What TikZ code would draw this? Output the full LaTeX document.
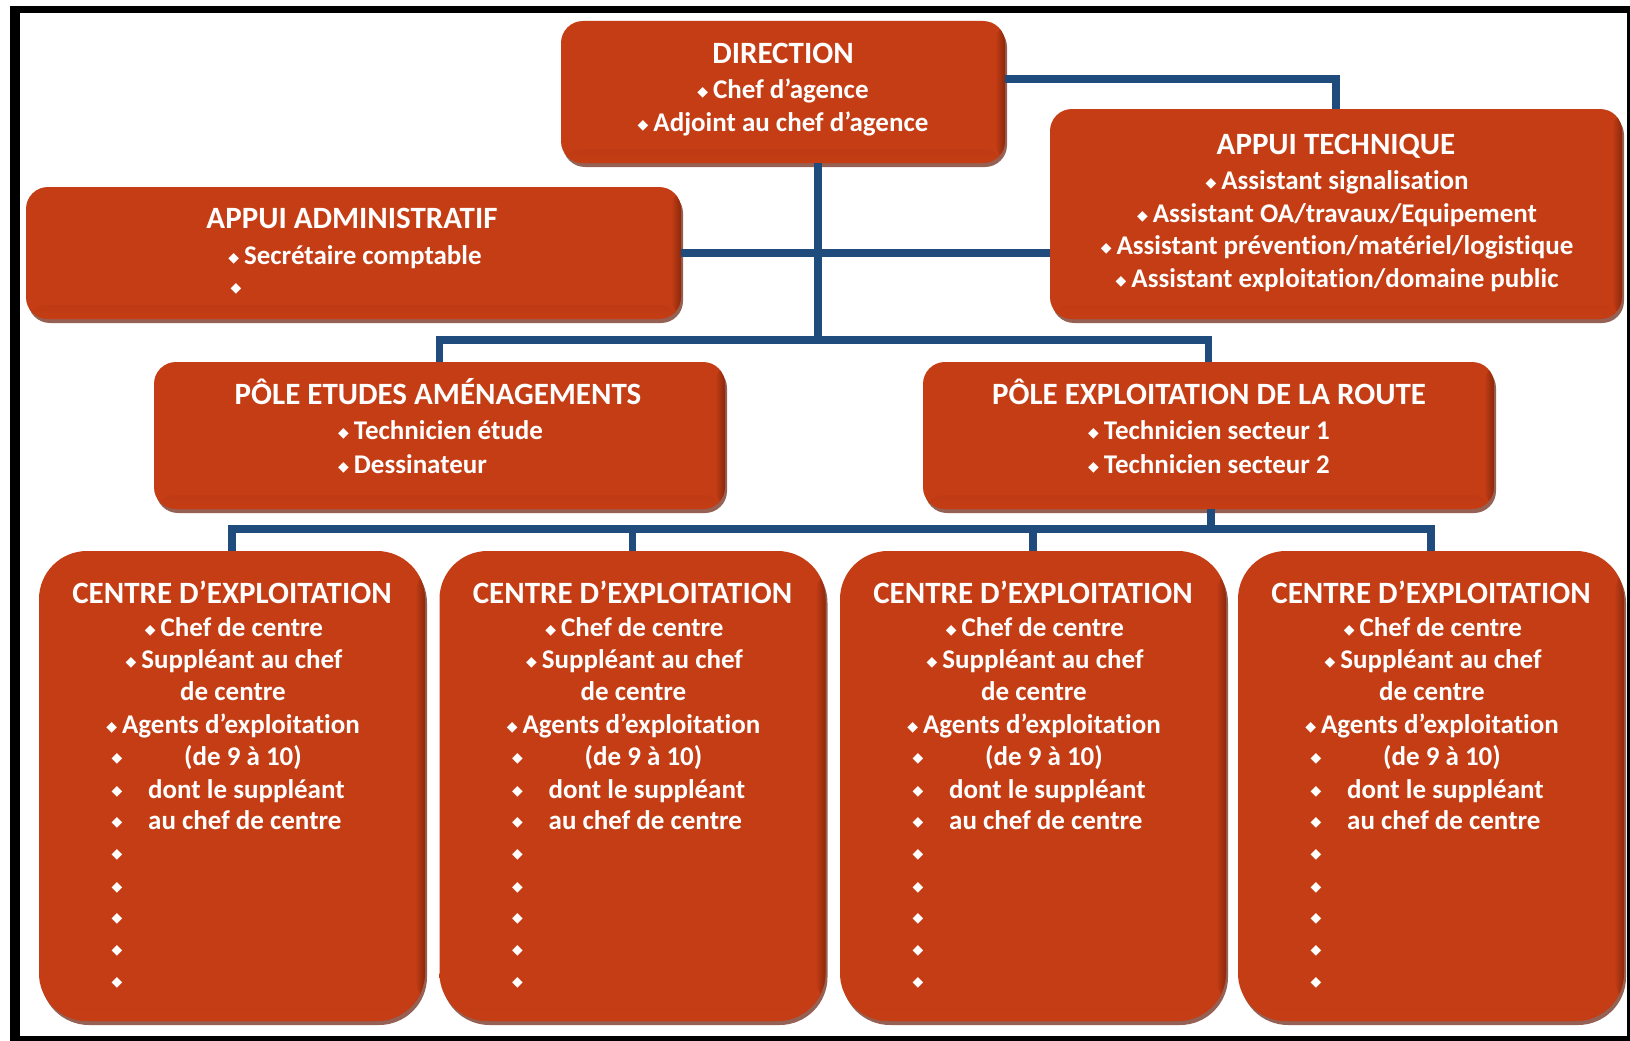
\documentclass[tikz,border=0pt]{standalone}
\usepackage{fontspec}
\setmainfont{Carlito}[Ligatures=NoCommon]
\newfontfamily\symf{DejaVu Sans}
\usetikzlibrary{shadows,calc}
\definecolor{boxred}{RGB}{197,61,20}
\definecolor{boxdark}{RGB}{125,36,12}
\definecolor{shadc}{RGB}{105,30,12}
\definecolor{linkblue}{RGB}{31,75,125}
\newcommand\bulg{\raisebox{1.5pt}{\symf\fontsize{14}{14}\selectfont ◆}}
\newcommand\bul{\bulg\hspace{5pt}}
\tikzset{
  box/.style={fill=boxred, rounded corners=22pt, inner sep=0pt,
    drop shadow={shadow xshift=2pt, shadow yshift=-4pt, fill=shadc, opacity=.7},
    path picture={
      \shade[top color=boxdark, bottom color=boxred]
        (path picture bounding box.south west) rectangle
        ([yshift=14pt]path picture bounding box.south east);
      \shade[left color=boxred, right color=boxdark, opacity=.8]
        ([xshift=-10pt]path picture bounding box.south east) rectangle
        (path picture bounding box.north east);
    }},
  cbox/.style={box, rounded corners=48pt},
  ttl/.style={text=white, font=\bfseries\fontsize{31}{34}\selectfont, inner sep=0pt, anchor=mid, yshift=-7pt},
  itm/.style={text=white, font=\bfseries\fontsize{27}{29}\selectfont, inner sep=0pt, anchor=mid, yshift=-7pt},
  dot/.style={itm, yshift=1pt},
  conn/.style={draw=linkblue, line width=7.5pt},
}
\begin{document}
\begin{tikzpicture}[x=1pt,y=-1pt]
\useasboundingbox (0,0) rectangle (1630,1041);
\fill[black] (10,6) rectangle (1630,1041);
\fill[white] (20,13) rectangle (1627,1036);

% boxes
\node[box, minimum width=444pt, minimum height=142pt] (dir) at (783,92) {};
\node[box, minimum width=572pt, minimum height=210pt] (tech) at (1336,214) {};
\node[box, minimum width=655pt, minimum height=132pt] (adm) at (353.5,253) {};
\node[box, minimum width=571pt, minimum height=147pt] (etu) at (439.5,435.5) {};
\node[box, minimum width=571pt, minimum height=147pt] (exp) at (1208.5,435.5) {};
\foreach \i/\cx in {1/232,2/632.5,3/1033,4/1431}{
  \node[cbox, minimum width=386pt, minimum height=470pt] (c\i) at (\cx,786) {};
}

% connectors
\coordinate (busA) at (818,340);
\coordinate (busB) at (1211,529);
\draw[conn] (dir.east |- 0,79) -| (tech.north);
\draw[conn] (dir.south -| busA) -- (busA);
\draw[conn] (adm.east) -- (adm.east -| tech.west);
\draw[conn] (etu.north) |- (exp.north |- busA) -- (exp.north);
\draw[conn] (exp.south -| busB) -- (busB);
\draw[conn] (c1.north) |- (c4.north |- busB) -- (c4.north);
\draw[conn] (c2.north) -- (c2.north |- busB);
\draw[conn] (c3.north) -- (c3.north |- busB);

% DIRECTION
\node[ttl] (dir-t) at (783,54) {DIRECTION};
\node[itm] (dir-1) at (783,89) {\bul Chef d’agence};
\node[itm] (dir-2) at (783,122) {\bul Adjoint au chef d’agence};

% APPUI TECHNIQUE
\node[ttl] (tech-t) at (1336,145) {APPUI TECHNIQUE};
\node[itm] (tech-1) at (1337,180) {\bul Assistant signalisation};
\node[itm] (tech-2) at (1337,213) {\bul Assistant OA/travaux/Equipement};
\node[itm] (tech-3) at (1337,245) {\bul Assistant prévention/matériel/logistique};
\node[itm] (tech-4) at (1337,278) {\bul Assistant exploitation/domaine public};

% APPUI ADMINISTRATIF
\node[ttl] (adm-t) at (352,219) {APPUI ADMINISTRATIF};
\node[itm] (adm-1) at (355,255) {\bul Secrétaire comptable};
\node[dot] (adm-2) at (236,286) {\bulg};

% POLE ETUDES
\node[ttl] (etu-t) at (438,395) {PÔLE ETUDES AMÉNAGEMENTS};
\node[itm, anchor=mid west] (etu-1) at (338,430) {\bul Technicien étude};
\node[itm, anchor=mid west] (etu-2) at (338,464) {\bul Dessinateur};

% POLE EXPLOITATION
\node[ttl] (exp-t) at (1209,395) {PÔLE EXPLOITATION DE LA ROUTE};
\node[itm] (exp-1) at (1209,430) {\bul Technicien secteur 1};
\node[itm] (exp-2) at (1209,464) {\bul Technicien secteur 2};

% CENTRES
\foreach \i/\cx in {1/232,2/632.5,3/1033,4/1431}{
  \node[ttl] (c\i-t) at (\cx,594) {CENTRE D’EXPLOITATION};
  \node[itm] (c\i-a) at (\cx+2,627) {\bul Chef de centre};
  \node[itm] (c\i-b) at (\cx+2,659) {\bul Suppléant au chef};
  \node[itm] (c\i-c) at (\cx+1,691) {de centre};
  \node[itm] (c\i-d) at (\cx+1,724) {\bul Agents d’exploitation};
  \node[itm, anchor=mid west] (c\i-e) at (\cx-48,756) {(de 9 à 10)};
  \node[itm, anchor=mid west] (c\i-f) at (\cx-84,789) {dont le suppléant};
  \node[itm, anchor=mid west] (c\i-g) at (\cx-84,820) {au chef de centre};
  \foreach \j/\y in {5/756,6/789,7/820,8/852,9/885,10/916,11/948,12/980}{
    \node[dot] (c\i-p\j) at (\cx-115,\y) {\bulg};
  }
}
\end{tikzpicture}
\end{document}
